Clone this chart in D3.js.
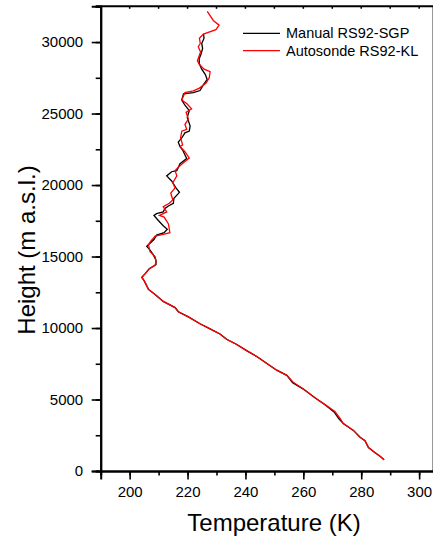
<!DOCTYPE html>
<html>
<head>
<meta charset="utf-8">
<script src="https://cdn.jsdelivr.net/npm/d3@7"></script>
<style>
  body { margin: 0; background: #fff; }
  text { font-family: "Liberation Sans", Arial, sans-serif; fill: #000; }
</style>
</head>
<body>
<div id="chart"></div>
<script>
// Series values (temperature in K, height in m)
var autoTemp = [226.8, 228.9, 230.9, 229.8, 225.5, 224.1, 224.4, 223.7, 224.5, 223.4, 224.0, 225.7, 227.8, 227.5, 226.4, 224.1, 222.0, 219.1, 218.0, 219.7, 221.4, 219.5, 220.3, 219.1, 219.7, 218.0, 217.6, 218.3, 217.4, 219.1, 220.6, 218.9, 216.8, 215.7, 216.3, 214.9, 215.7, 214.2, 214.9, 213.7, 211.6, 212.8, 210.3, 211.9, 213.4, 213.9, 211.6, 208.8, 207.3, 206.5, 207.0, 208.8, 209.1, 208.8, 206.8, 205.3, 204.2, 205.0, 206.5, 208.8, 211.6, 215.7, 216.8, 220.3, 224.3, 227.8, 231.2, 233.5, 237.0, 240.4, 243.9, 247.3, 250.8, 254.3, 256.5, 260.0, 264.0, 267.5, 270.9, 272.7, 273.8, 277.3, 279.6, 281.3, 282.5, 284.8, 286.5, 287.9];
var autoHeight = [32140, 31510, 31180, 30870, 30560, 30270, 29900, 29670, 29300, 28700, 28460, 28100, 27930, 27500, 27140, 26780, 26590, 26470, 25940, 25700, 25330, 25090, 24610, 24250, 23890, 23770, 23290, 22810, 22690, 22330, 21890, 21610, 21250, 21000, 20640, 20160, 19800, 19440, 18960, 18720, 18480, 18120, 17880, 17760, 17280, 16670, 16550, 16430, 16070, 15830, 15350, 14990, 14630, 14390, 14150, 13790, 13550, 13310, 12700, 12340, 11860, 11430, 11140, 10780, 10300, 9940, 9580, 9210, 8850, 8420, 8010, 7530, 7050, 6690, 6210, 5730, 5120, 4640, 4160, 3680, 3320, 2840, 2360, 2120, 1640, 1280, 1030, 790];

var manualTemp = [225.5, 225.7, 224.9, 225.2, 224.7, 224.0, 224.1, 224.9, 226.1, 226.8, 225.5, 224.3, 222.0, 218.6, 218.0, 219.1, 220.6, 219.9, 220.9, 220.6, 219.1, 218.0, 216.8, 217.4, 218.3, 219.7, 217.4, 216.3, 214.5, 212.8, 214.5, 216.0, 217.2, 215.3, 215.1, 213.4, 212.2, 211.6, 209.3, 208.4, 209.9, 211.6, 213.0, 211.9, 209.3, 208.4, 205.9, 207.0, 208.2, 209.1, 209.1, 206.8, 205.3, 204.2, 205.0, 206.5, 208.8, 211.6, 215.7, 216.8, 220.3, 224.3, 227.8, 231.2, 233.5, 237.0, 240.4, 243.9, 247.3, 250.8, 254.3, 256.3, 260.0, 264.0, 267.5, 270.6, 272.3, 273.8, 277.3, 279.6, 281.3, 282.5, 284.8, 286.5, 287.9];
var manualHeight = [30580, 30270, 29900, 29550, 29180, 28820, 28460, 28100, 27740, 27380, 27020, 26610, 26470, 26370, 25940, 25580, 25210, 24730, 24130, 23770, 23650, 23290, 23000, 22690, 22450, 21850, 21490, 21000, 20930, 20640, 20280, 19800, 19490, 19080, 18720, 18530, 18360, 18120, 18000, 17880, 17520, 17150, 16910, 16670, 16500, 16190, 15710, 15470, 15110, 14750, 14440, 14150, 13790, 13550, 13310, 12700, 12340, 11860, 11430, 11140, 10780, 10300, 9940, 9580, 9210, 8850, 8420, 8010, 7530, 7050, 6690, 6180, 5730, 5120, 4640, 4130, 3650, 3320, 2840, 2360, 2120, 1640, 1280, 1030, 790];

var seriesNames = ["Manual RS92-SGP", "Autosonde RS92-KL"];
var seriesColors = ["#000000", "#ff0000"];

var xTicks = [200, 220, 240, 260, 280, 300];
var yTicks = [0, 5000, 10000, 15000, 20000, 25000, 30000];

// SVG area and plot box
var svgWidth = 433;
var svgHeight = 540;
var margin = { top: 6.3, right: -0.6, bottom: 69, left: 100.7 };
var width = svgWidth - margin.left - margin.right;
var height = svgHeight - margin.top - margin.bottom;

var svg = d3.select("#chart")
  .append("svg")
  .attr("width", svgWidth)
  .attr("height", svgHeight);

var g = svg.append("g")
  .attr("transform", `translate(${margin.left}, ${margin.top})`);

var x = d3.scaleLinear().domain([190, 305]).range([0, width]);
var y = d3.scaleLinear().domain([0, 32500]).range([height, 0]);

// data lines
var manual = manualTemp.map((t, i) => [t, manualHeight[i]]);
var auto = autoTemp.map((t, i) => [t, autoHeight[i]]);

var line = d3.line()
  .x(d => x(d[0]))
  .y(d => y(d[1]));

g.append("path")
  .datum(manual)
  .attr("d", line)
  .attr("fill", "none")
  .attr("stroke", seriesColors[0])
  .attr("stroke-width", 1.3);

g.append("path")
  .datum(auto)
  .attr("d", line)
  .attr("fill", "none")
  .attr("stroke", seriesColors[1])
  .attr("stroke-width", 1.3);

// frame: top and right lines
g.append("line")
  .attr("x1", -5).attr("x2", width)
  .attr("y1", 0).attr("y2", 0)
  .attr("stroke", "#000").attr("stroke-width", 2);

g.append("line")
  .attr("x1", width).attr("x2", width)
  .attr("y1", 0).attr("y2", height)
  .attr("stroke", "#000").attr("stroke-width", 2);

// small inward ticks on the top line
g.append("g")
  .selectAll("line")
  .data(d3.range(200, 305, 10))
  .enter()
  .append("line")
  .attr("x1", d => x(d)).attr("x2", d => x(d))
  .attr("y1", 0).attr("y2", 2.5)
  .attr("stroke", "#000").attr("stroke-width", 1.5);

// bottom axis: minor ticks then major
var xMinor = g.append("g")
  .attr("transform", `translate(0, ${height})`)
  .call(d3.axisBottom(x).tickValues(d3.range(190, 305, 10)).tickSize(4.5).tickFormat(""));

var xAxis = g.append("g")
  .attr("transform", `translate(0, ${height})`)
  .call(d3.axisBottom(x).tickValues(xTicks).tickSize(8.5).tickPadding(7).tickFormat(d3.format("d")));

// left axis
var yMinor = g.append("g")
  .call(d3.axisLeft(y).tickValues(d3.range(0, 32501, 2500)).tickSize(5).tickFormat(""));

var yAxis = g.append("g")
  .call(d3.axisLeft(y).tickValues(yTicks).tickSize(9).tickPadding(8.5).tickFormat(d3.format("d")));

[xMinor, xAxis, yMinor, yAxis].forEach(function(a) {
  a.select(".domain").attr("stroke-width", 2).attr("stroke", "#000");
  a.selectAll(".tick line").attr("stroke-width", 1.6).attr("stroke", "#000");
});

xAxis.selectAll("text")
  .style("font-size", "15px")
  .attr("font-family", null);

yAxis.selectAll("text")
  .style("font-size", "15px")
  .attr("font-family", null);

// axis titles
svg.append("text")
  .attr("x", 274)
  .attr("y", 531)
  .attr("text-anchor", "middle")
  .style("font-size", "24px")
  .text("Temperature (K)");

svg.append("text")
  .attr("transform", "translate(35, 250) rotate(-90)")
  .attr("text-anchor", "middle")
  .style("font-size", "24px")
  .text("Height (m a.s.l.)");

// legend
var legend = svg.append("g");
seriesNames.forEach(function(name, i) {
  var ly = 33.3 + i * 17.4;
  legend.append("line")
    .attr("x1", 243).attr("x2", 280)
    .attr("y1", ly).attr("y2", ly)
    .attr("stroke", seriesColors[i])
    .attr("stroke-width", 1.3);
  legend.append("text")
    .attr("x", 286)
    .attr("y", ly + 5)
    .style("font-size", "14.5px")
    .text(name);
});
</script>
</body>
</html>
